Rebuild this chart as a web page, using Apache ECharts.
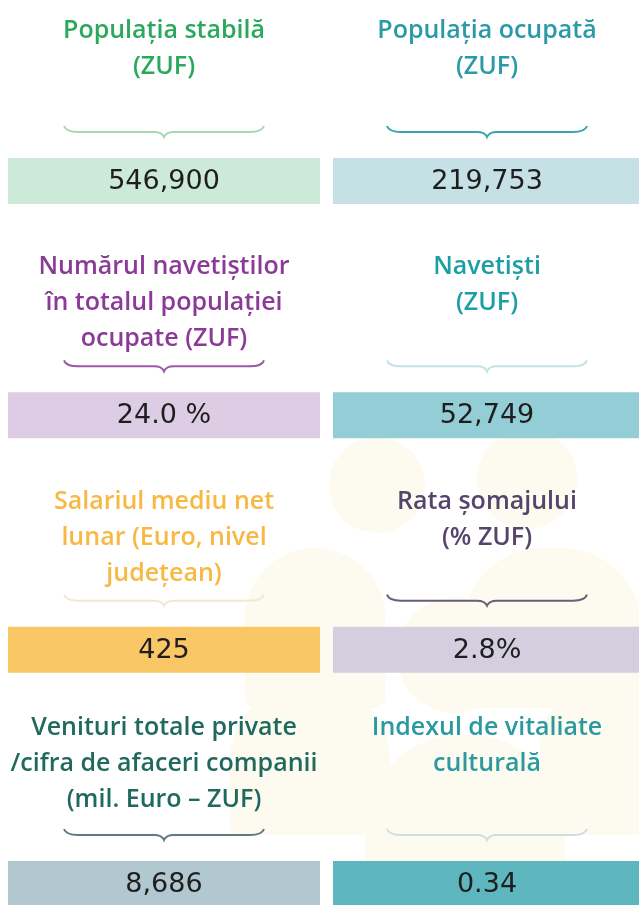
<!DOCTYPE html>
<html>
<head>
<meta charset="utf-8">
<script src="https://cdn.jsdelivr.net/npm/echarts@6/dist/echarts.min.js"></script>
<style>
  html, body { margin: 0; padding: 0; background: #ffffff; }
  #chart { width: 639px; height: 905px; }
</style>
</head>
<body>
<div id="chart"></div>
<script>
// ---- data ----
const titles = [
  ['Populația stabilă', '(ZUF)'],
  ['Populația ocupată', '(ZUF)'],
  ['Numărul navetiștilor', 'în totalul populației', 'ocupate (ZUF)'],
  ['Navetiști', '(ZUF)'],
  ['Salariul mediu net', 'lunar (Euro, nivel', 'județean)'],
  ['Rata șomajului', '(% ZUF)'],
  ['Venituri totale private', '/cifra de afaceri companii', '(mil. Euro – ZUF)'],
  ['Indexul de vitaliate', 'culturală']
];
const values = [546900, 219753, 24.0, 52749, 425, 2.8, 8686, 0.34];
const valueLabels = ['546,900', '219,753', '24.0 %', '52,749', '425', '2.8%', '8,686', '0.34'];
const columns = [0, 1, 0, 1, 0, 1, 0, 1];
const rows = [0, 0, 1, 1, 2, 2, 3, 3];

// ---- styles ----
const titleColors = ['#2aa85c', '#2b9aa8', '#8c3a98', '#1b9fa3', '#f7b944', '#55456c', '#20695f', '#2a9aa0'];
const braceColors = ['#a9d6b7', '#3aa3b3', '#9b5aa6', '#c3e3e6', '#f1e9cf', '#6b5c7a', '#5f7b80', '#c8e0e3'];
const boxColors   = ['#cde9d7', '#c6e1e6', '#dccce4', '#93cdd5', '#f9c766', '#d3cfdf', '#b2c8d1', '#5eb7be'];
const titleTop = [30, 32, 32, 24];

const chart = echarts.init(document.getElementById('chart'), null, { renderer: 'canvas' });

const seriesData = values.map((v, i) => ({ value: [columns[i], rows[i], v], idx: i }));

function renderItem(params, api) {
  const i = params.dataIndex;
  const col = api.value(0), row = api.value(1);
  const p = api.coord([col, row]);
  const cw = api.size([1, 0])[0];
  const x0 = p[0], y0 = p[1];
  const bx = col === 0 ? x0 + 8 : x0 + 13.5;
  const bw = col === 0 ? cw - 7.5 : cw - 13.5;
  const cx = bx + bw / 2 + (col === 0 ? 0 : 1);
  const children = [];
  // background box
  const boxTop = y0 + 157;
  children.push({
    type: 'rect',
    shape: { x: bx, y: boxTop, width: bw, height: 46 },
    style: { fill: boxColors[i] }
  });
  // value text
  children.push({
    type: 'text',
    style: {
      text: valueLabels[i], x: cx, y: boxTop + 24,
      align: 'center', verticalAlign: 'middle',
      fill: '#1e1e1e', fontSize: 27, fontFamily: 'DejaVu Sans', fontWeight: 'normal'
    }
  });
  // brace
  const by = y0 + 131;
  const bc = cx;
  const d = 'M' + (bc - 100) + ',' + (by - 6) +
    ' Q' + (bc - 98) + ',' + by + ' ' + (bc - 86) + ',' + by +
    ' L' + (bc - 10) + ',' + by +
    ' Q' + (bc - 2) + ',' + by + ' ' + bc + ',' + (by + 5) +
    ' Q' + (bc + 2) + ',' + by + ' ' + (bc + 10) + ',' + by +
    ' L' + (bc + 86) + ',' + by +
    ' Q' + (bc + 98) + ',' + by + ' ' + (bc + 100) + ',' + (by - 6);
  children.push({
    type: 'path',
    shape: { pathData: d },
    style: { fill: 'none', stroke: braceColors[i], lineWidth: 2 }
  });
  // title
  titles[i].forEach((line, k) => {
    children.push({
      type: 'text',
      style: {
        text: line, x: cx, y: y0 + titleTop[row] + k * 36,
        align: 'center', verticalAlign: 'middle',
        fill: titleColors[i], fontSize: 25, fontFamily: 'Open Sans', fontWeight: 600
      }
    });
  });
  return { type: 'group', children: children };
}

const silhouette = '#fdfbef';
const option = {
  backgroundColor: '#ffffff',
  animation: false,
  graphic: [
    { type: 'circle', shape: { cx: 377, cy: 485, r: 48 }, style: { fill: silhouette }, z: -10 },
    { type: 'circle', shape: { cx: 527, cy: 479, r: 50 }, style: { fill: silhouette }, z: -10 },
    { type: 'rect', shape: { x: 245, y: 548, width: 140, height: 160, r: [70, 70, 10, 10] }, style: { fill: silhouette }, z: -10 },
    { type: 'rect', shape: { x: 462, y: 548, width: 180, height: 160, r: [80, 80, 10, 10] }, style: { fill: silhouette }, z: -10 },
    { type: 'circle', shape: { cx: 455, cy: 655, r: 58 }, style: { fill: silhouette }, z: -10 },
    { type: 'rect', shape: { x: 230, y: 685, width: 160, height: 150, r: [75, 75, 10, 10] }, style: { fill: silhouette }, z: -10 },
    { type: 'rect', shape: { x: 540, y: 685, width: 110, height: 150, r: [60, 0, 0, 10] }, style: { fill: silhouette }, z: -10 },
    { type: 'rect', shape: { x: 365, y: 735, width: 200, height: 180, r: [95, 95, 0, 0] }, style: { fill: silhouette }, z: -10 }
  ],
  grid: { left: 0, right: 0, top: 1, bottom: 0, containLabel: false },
  xAxis: { type: 'value', min: 0, max: 2, show: false },
  yAxis: { type: 'value', min: 0, max: 3.858, inverse: true, show: false },
  series: [{
    type: 'custom',
    coordinateSystem: 'cartesian2d',
    renderItem: renderItem,
    data: seriesData,
    encode: { x: 0, y: 1 },
    silent: true
  }]
};
chart.setOption(option);
</script>
</body>
</html>
